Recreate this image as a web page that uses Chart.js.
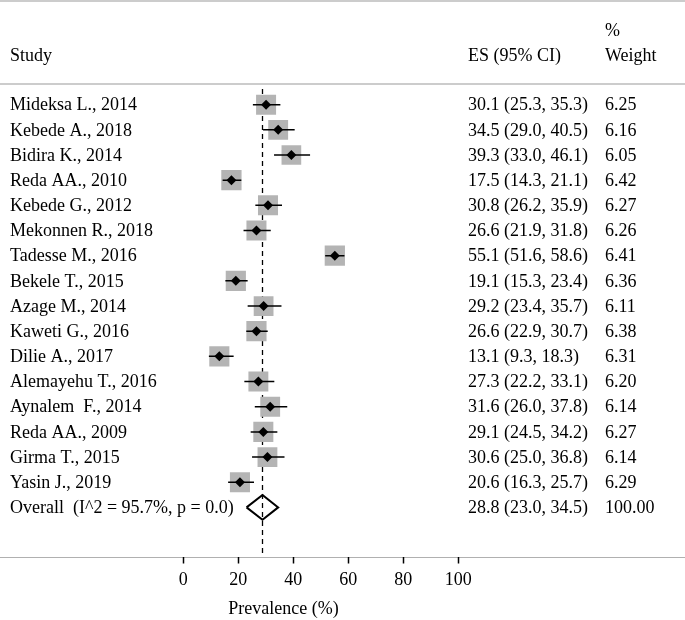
<!DOCTYPE html>
<html>
<head>
<meta charset="utf-8">
<script src="https://cdn.jsdelivr.net/npm/chart.js@4.4.1/dist/chart.umd.min.js"></script>
<style>
  html, body { margin: 0; padding: 0; background: #fff; }
  #wrap { width: 685px; height: 620px; }
</style>
</head>
<body>
<div id="wrap"><canvas id="forest" width="685" height="620"></canvas></div>
<script>
// --- データ ---
const studies = [
  "Mideksa L., 2014", "Kebede A., 2018", "Bidira K., 2014", "Reda AA., 2010",
  "Kebede G., 2012", "Mekonnen R., 2018", "Tadesse M., 2016", "Bekele T., 2015",
  "Azage M., 2014", "Kaweti G., 2016", "Dilie A., 2017", "Alemayehu T., 2016",
  "Aynalem  F., 2014", "Reda AA., 2009", "Girma T., 2015", "Yasin J., 2019"
];
const es = [30.1, 34.5, 39.3, 17.5, 30.8, 26.6, 55.1, 19.1, 29.2, 26.6, 13.1, 27.3, 31.6, 29.1, 30.6, 20.6];
const ciLow = [25.3, 29.0, 33.0, 14.3, 26.2, 21.9, 51.6, 15.3, 23.4, 22.9, 9.3, 22.2, 26.0, 24.5, 25.0, 16.3];
const ciHigh = [35.3, 40.5, 46.1, 21.1, 35.9, 31.8, 58.6, 23.4, 35.7, 30.7, 18.3, 33.1, 37.8, 34.2, 36.8, 25.7];
const weights = [6.25, 6.16, 6.05, 6.42, 6.27, 6.26, 6.41, 6.36, 6.11, 6.38, 6.31, 6.20, 6.14, 6.27, 6.14, 6.29];

const overallLabel = "Overall  (I^2 = 95.7%, p = 0.0)";
const overallEs = 28.8;
const overallLow = 23.0;
const overallHigh = 34.5;
const overallWeight = "100.00";

const xTicks = [0, 20, 40, 60, 80, 100];
const xTitle = "Prevalence (%)";

const FONT = "18px 'Liberation Serif', 'Times New Roman', serif";
const overallRow = studies.length; // 16

// --- ユーティリティ ---
const fmtCI = (v, l, h) => `${v.toFixed(1)} (${l.toFixed(1)}, ${h.toFixed(1)})`;

// 信頼区間の線分（null で区切る）
const ciPoints = [];
studies.forEach((_, i) => {
  ciPoints.push({ x: ciLow[i], y: i }, { x: ciHigh[i], y: i }, { x: null, y: null });
});

// 重みに応じた四角の大きさ（面積 ∝ 重み）
const boxRadius = weights.map((w) => (8 * Math.sqrt(w)) / Math.SQRT2);

// 全体の菱形
const dh = 0.49;
const overallDiamond = [
  { x: overallLow, y: overallRow },
  { x: overallEs, y: overallRow - dh },
  { x: overallHigh, y: overallRow },
  { x: overallEs, y: overallRow + dh },
  { x: overallLow, y: overallRow },
];

// テキスト列と罫線を描くプラグイン
const tablePlugin = {
  id: "tableText",
  beforeDraw(chart) {
    const { ctx, width } = chart;
    ctx.save();
    ctx.strokeStyle = "#cccccc";
    ctx.lineWidth = 2;
    ctx.beginPath();
    ctx.moveTo(0, 1); ctx.lineTo(width, 1);
    ctx.moveTo(0, 84); ctx.lineTo(width, 84);
    ctx.stroke();
    ctx.strokeStyle = "#b0b0b0";
    ctx.lineWidth = 1.2;
    ctx.beginPath();
    const yb = chart.chartArea.bottom + 0.5;
    ctx.moveTo(0, yb); ctx.lineTo(width, yb);
    ctx.stroke();
    ctx.restore();
  },
  afterDraw(chart) {
    const { ctx } = chart;
    const ys = chart.scales.y;
    ctx.save();
    ctx.font = FONT;
    ctx.fillStyle = "#000";
    ctx.textBaseline = "middle";
    ctx.textAlign = "left";

    // ヘッダー
    ctx.fillText("Study", 10, 56);
    ctx.fillText("ES (95% CI)", 468, 56);
    ctx.fillText("%", 605, 31);
    ctx.fillText("Weight", 605, 56);

    studies.forEach((s, i) => {
      const y = ys.getPixelForValue(i) + 1;
      ctx.fillText(s, 10, y);
      ctx.fillText(fmtCI(es[i], ciLow[i], ciHigh[i]), 468, y);
      ctx.fillText(weights[i].toFixed(2), 605, y);
    });
    const yo = ys.getPixelForValue(overallRow) + 1;
    ctx.fillText(overallLabel, 10, yo);
    ctx.fillText(fmtCI(overallEs, overallLow, overallHigh), 468, yo);
    ctx.fillText(overallWeight, 605, yo);

    // X軸タイトル
    ctx.textAlign = "center";
    ctx.fillText(xTitle, 283.5, 609);
    ctx.restore();
  },
};

const ctx = document.getElementById("forest").getContext("2d");
new Chart(ctx, {
  type: "scatter",
  data: {
    datasets: [
      {
        // 点推定（黒い菱形）
        data: es.map((v, i) => ({ x: v, y: i })),
        pointStyle: "rectRot",
        pointRadius: 5,
        backgroundColor: "#000",
        borderWidth: 0,
        order: 1,
      },
      {
        // 信頼区間
        data: ciPoints,
        showLine: true,
        spanGaps: false,
        borderColor: "#000",
        borderWidth: 1.5,
        pointRadius: 0,
        order: 2,
      },
      {
        // 重みの四角
        data: es.map((v, i) => ({ x: v, y: i })),
        pointStyle: "rect",
        pointRadius: boxRadius,
        backgroundColor: "#b4b4b4",
        borderWidth: 0,
        order: 3,
      },
      {
        // 全体推定の菱形
        data: overallDiamond,
        showLine: true,
        borderColor: "#000",
        borderWidth: 2,
        pointRadius: 0,
        fill: false,
        order: 1,
      },
      {
        // 全体推定の破線
        data: [{ x: overallEs, y: -0.62 }, { x: overallEs, y: 17.97 }],
        showLine: true,
        borderColor: "#000",
        borderWidth: 1.3,
        borderDash: [5, 4],
        pointRadius: 0,
        order: 5,
      },
    ],
  },
  options: {
    responsive: false,
    animation: false,
    events: [],
    layout: { padding: { left: 183.3, right: 226.7, top: 84, bottom: 0 } },
    plugins: { legend: { display: false }, tooltip: { enabled: false } },
    scales: {
      x: {
        type: "linear",
        min: 0,
        max: 100,
        afterBuildTicks: (scale) => {
          scale.ticks = xTicks.map((v) => ({ value: v }));
        },
        afterFit: (scale) => {
          scale.height = 63;
        },
        border: { display: false },
        grid: {
          drawOnChartArea: false,
          drawTicks: true,
          tickLength: 6.5,
          tickColor: "#000",
          tickWidth: 1.5,
        },
        ticks: {
          color: "#000",
          padding: 6,
          maxRotation: 0,
          font: { family: "'Liberation Serif', serif", size: 18 },
        },
        title: { display: false },
      },
      y: {
        type: "linear",
        display: false,
        reverse: true,
        min: -0.82,
        max: 17.97,
      },
    },
  },
  plugins: [tablePlugin],
});
</script>
</body>
</html>
